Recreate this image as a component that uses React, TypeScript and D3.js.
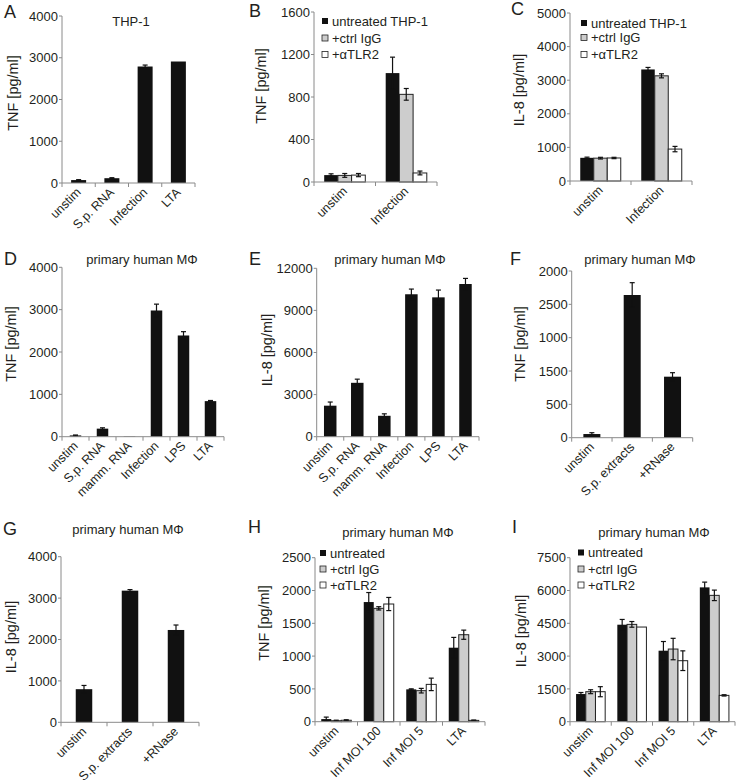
import React from "react";
import * as d3 from "d3";

// ---------- DATA ----------
const seriesNames = ["untreated THP-1", "+ctrl IgG", "+αTLR2"];
const seriesNamesPrimary = ["untreated", "+ctrl IgG", "+αTLR2"];

const catsA = ["unstim", "S.p. RNA", "Infection", "LTA"];
const valsA = [70, 115, 2790, 2910];
const errA = [10, 12, 35, 0];

const catsB = ["unstim", "Infection"];
const valsB = [[65, 62, 65], [1025, 825, 85]];
const errB = [[12, 18, 15], [150, 55, 18]];

const catsC = ["unstim", "Infection"];
const valsC = [[690, 680, 685], [3320, 3130, 950]];
const errC = [[20, 25, 20], [60, 60, 80]];

const catsD = ["unstim", "S.p. RNA", "mamm. RNA", "Infection", "LPS", "LTA"];
const valsD = [30, 190, 8, 2980, 2390, 840];
const errD = [10, 20, 0, 150, 90, 15];

const catsE = ["unstim", "S.p. RNA", "mamm. RNA", "Infection", "LPS", "LTA"];
const valsE = [2210, 3840, 1490, 10150, 9930, 10880];
const errE = [260, 260, 140, 370, 520, 400];

const catsF = ["unstim", "S.p. extracts", "+RNase"];
const valsF = [55, 2140, 915];
const errF = [20, 185, 60];
const tickLabelsF = ["0", "500", "1500", "1000", "2500", "2000"];

const catsG = ["unstim", "S.p. extracts", "+RNase"];
const valsG = [800, 3180, 2230];
const errG = [90, 25, 120];

const catsH = ["unstim", "Inf MOI 100", "Inf MOI 5", "LTA"];
const valsH = [[40, 15, 22], [1824, 1728, 1794], [493, 473, 569], [1128, 1326, 20]];
const errH = [[30, 8, 8], [145, 25, 100], [8, 35, 95], [157, 70, 6]];

const catsI = ["unstim", "Inf MOI 100", "Inf MOI 5", "LTA"];
const valsI = [[1265, 1372, 1372], [4436, 4451, 4329], [3247, 3323, 2790], [6143, 5778, 1204]];
const errI = [[70, 90, 230], [240, 130, 0], [420, 490, 450], [240, 240, 30]];

// ---------- STYLE ----------
const FONT = "'Liberation Sans', Arial, Helvetica, sans-serif";
const TEXT = "#231f20";
const AXIS = "#8a8a8a";
const FILLS = ["#111111", "#cdcdcd", "#ffffff"];

type PanelCfg = {
  letter: string;
  lx: number; ly: number;
  title?: string; tx?: number; ty?: number;
  ylabel: string; ylx: number; yly: number;
  x0: number; x1: number; yTop: number; y0: number;
  ymax: number; ystep: number; tickLabels?: string[];
  cats: string[];
  vals: number[][]; errs: number[][];
  barW: number;
  legend?: { names: string[]; x: number; ys: number[] };
};

function Panel({ c }: { c: PanelCfg }) {
  const x = d3.scaleBand<string>().domain(c.cats).range([c.x0, c.x1]).paddingInner(0).paddingOuter(0);
  const y = d3.scaleLinear().domain([0, c.ymax]).range([c.y0, c.yTop]);
  const ticks = d3.range(0, c.ymax + 1e-6, c.ystep);
  const nSeries = c.vals[0].length;
  const sub = d3.scaleBand<number>().domain(d3.range(nSeries)).range([0, c.barW * nSeries]);
  const bounds = c.cats.map((k) => x(k)!).concat([c.x1]);
  return (
    <g>
      <text x={c.lx} y={c.ly} fontSize={18} fill={TEXT}>{c.letter}</text>
      {c.title && (
        <text x={c.tx} y={c.ty} fontSize={13} fill={TEXT} textAnchor="middle">{c.title}</text>
      )}
      <text transform={`translate(${c.ylx},${c.yly}) rotate(-90)`} fontSize={14.5} fill={TEXT} textAnchor="middle">{c.ylabel}</text>
      {/* bars */}
      {c.cats.map((cat, i) => {
        const cx = x(cat)! + x.bandwidth() / 2;
        const gx = cx - (c.barW * nSeries) / 2;
        return c.vals[i].map((v, s) => {
          const bx = gx + sub(s)!;
          const e = c.errs[i][s];
          const ex = bx + c.barW / 2;
          const fill = nSeries === 1 ? FILLS[0] : FILLS[s];
          return (
            <g key={cat + s}>
              <rect x={bx} y={y(v)} width={c.barW} height={y(0) - y(v)} fill={fill}
                stroke={s > 0 ? "#222" : "none"} strokeWidth={s > 0 ? 1 : 0} />
              {e > 0 && (
                <g stroke="#111" strokeWidth={1.2}>
                  <line x1={ex} x2={ex} y1={y(v + e)} y2={y(Math.max(0, v - e))} />
                  <line x1={ex - 2.5} x2={ex + 2.5} y1={y(v + e)} y2={y(v + e)} />
                  <line x1={ex - 2.5} x2={ex + 2.5} y1={y(Math.max(0, v - e))} y2={y(Math.max(0, v - e))} />
                </g>
              )}
            </g>
          );
        });
      })}
      {/* axes */}
      <line x1={c.x0} x2={c.x0} y1={c.yTop} y2={c.y0} stroke={AXIS} strokeWidth={1} />
      <line x1={c.x0} x2={c.x1} y1={c.y0} y2={c.y0} stroke={AXIS} strokeWidth={1} />
      {ticks.map((t, i) => (
        <g key={"yt" + i}>
          <line x1={c.x0 - 3} x2={c.x0} y1={y(t)} y2={y(t)} stroke={AXIS} />
          <text x={c.x0 - 4} y={y(t)} dy="0.36em" fontSize={13} fill={TEXT} textAnchor="end">
            {c.tickLabels ? c.tickLabels[i] : String(t)}
          </text>
        </g>
      ))}
      {bounds.map((b, i) => (
        <line key={"xt" + i} x1={b} x2={b} y1={c.y0} y2={c.y0 + 4} stroke={AXIS} />
      ))}
      {c.cats.map((cat) => {
        const cx = x(cat)! + x.bandwidth() / 2;
        return (
          <text key={"xl" + cat} transform={`translate(${cx + 3},${c.y0 + 10}) rotate(-45)`}
            fontSize={12.5} fill={TEXT} textAnchor="end">{cat}</text>
        );
      })}
      {c.legend && c.legend.names.map((nm, s) => (
        <g key={"lg" + s}>
          <rect x={c.legend!.x} y={c.legend!.ys[s] - 3} width={6} height={6} fill={FILLS[s]}
            stroke={s > 0 ? "#222" : "none"} strokeWidth={s > 0 ? 0.8 : 0} />
          <text x={c.legend!.x + 10} y={c.legend!.ys[s]} dy="0.36em" fontSize={13} fill={TEXT}>{nm}</text>
        </g>
      ))}
    </g>
  );
}

const single = (v: number[]) => v.map((d) => [d]);

const panels: PanelCfg[] = [
  { letter: "A", lx: 4, ly: 18, title: "THP-1", tx: 131, ty: 26, ylabel: "TNF [pg/ml]", ylx: 18, yly: 93,
    x0: 62, x1: 195, yTop: 16, y0: 183, ymax: 4000, ystep: 1000, cats: catsA,
    vals: single(valsA), errs: single(errA), barW: 15 },
  { letter: "B", lx: 249, ly: 17, ylabel: "TNF [pg/ml]", ylx: 266, yly: 86,
    x0: 314, x1: 437, yTop: 12, y0: 182, ymax: 1600, ystep: 400, cats: catsB,
    vals: valsB, errs: errB, barW: 13.7,
    legend: { names: seriesNames, x: 322, ys: [21, 38, 54.5] } },
  { letter: "C", lx: 511, ly: 15, ylabel: "IL-8 [pg/ml]", ylx: 524, yly: 90,
    x0: 570, x1: 692, yTop: 13, y0: 181, ymax: 5000, ystep: 1000, cats: catsC,
    vals: valsC, errs: errC, barW: 13.5,
    legend: { names: seriesNames, x: 581, ys: [23, 37.5, 54.5] } },
  { letter: "D", lx: 4, ly: 265, title: "primary human MΦ", tx: 142, ty: 264, ylabel: "TNF [pg/ml]", ylx: 16, yly: 344,
    x0: 62, x1: 224, yTop: 267.3, y0: 436.7, ymax: 4000, ystep: 1000, cats: catsD,
    vals: single(valsD), errs: single(errD), barW: 11.5 },
  { letter: "E", lx: 249, ly: 265, title: "primary human MΦ", tx: 390, ty: 264, ylabel: "IL-8 [pg/ml]", ylx: 272, yly: 350,
    x0: 316.7, x1: 479, yTop: 268.3, y0: 436.7, ymax: 12000, ystep: 3000, cats: catsE,
    vals: single(valsE), errs: single(errE), barW: 12.5 },
  { letter: "F", lx: 510, ly: 265, title: "primary human MΦ", tx: 640, ty: 264, ylabel: "TNF [pg/ml]", ylx: 525, yly: 344,
    x0: 571.7, x1: 692.7, yTop: 271, y0: 437.7, ymax: 2500, ystep: 500, tickLabels: tickLabelsF, cats: catsF,
    vals: single(valsF), errs: single(errF), barW: 17 },
  { letter: "G", lx: 3, ly: 535, title: "primary human MΦ", tx: 128, ty: 534, ylabel: "IL-8 [pg/ml]", ylx: 16, yly: 637,
    x0: 61, x1: 199, yTop: 556.7, y0: 722.3, ymax: 4000, ystep: 1000, cats: catsG,
    vals: single(valsG), errs: single(errG), barW: 16.5 },
  { letter: "H", lx: 248, ly: 533, title: "primary human MΦ", tx: 398, ty: 537, ylabel: "TNF [pg/ml]", ylx: 269, yly: 623,
    x0: 315, x1: 485, yTop: 557.7, y0: 721.7, ymax: 2500, ystep: 500, cats: catsH,
    vals: valsH, errs: errH, barW: 10,
    legend: { names: seriesNamesPrimary, x: 320, ys: [553, 569, 585] } },
  { letter: "I", lx: 512, ly: 533, title: "primary human MΦ", tx: 654, ty: 537, ylabel: "IL-8 [pg/ml]", ylx: 526, yly: 631,
    x0: 570, x1: 735, yTop: 557.7, y0: 721.7, ymax: 7500, ystep: 1500, cats: catsI,
    vals: valsI, errs: errI, barW: 9.7,
    legend: { names: seriesNamesPrimary, x: 578, ys: [552.5, 569, 585] } },
];

export default function App() {
  return (
    <svg width={736} height={784} style={{ position: "absolute", left: 0, top: 0, background: "#fff" }}
      fontFamily={FONT}>
      <rect width={736} height={784} fill="#fff" />
      {panels.map((p) => <Panel key={p.letter} c={p} />)}
    </svg>
  );
}
